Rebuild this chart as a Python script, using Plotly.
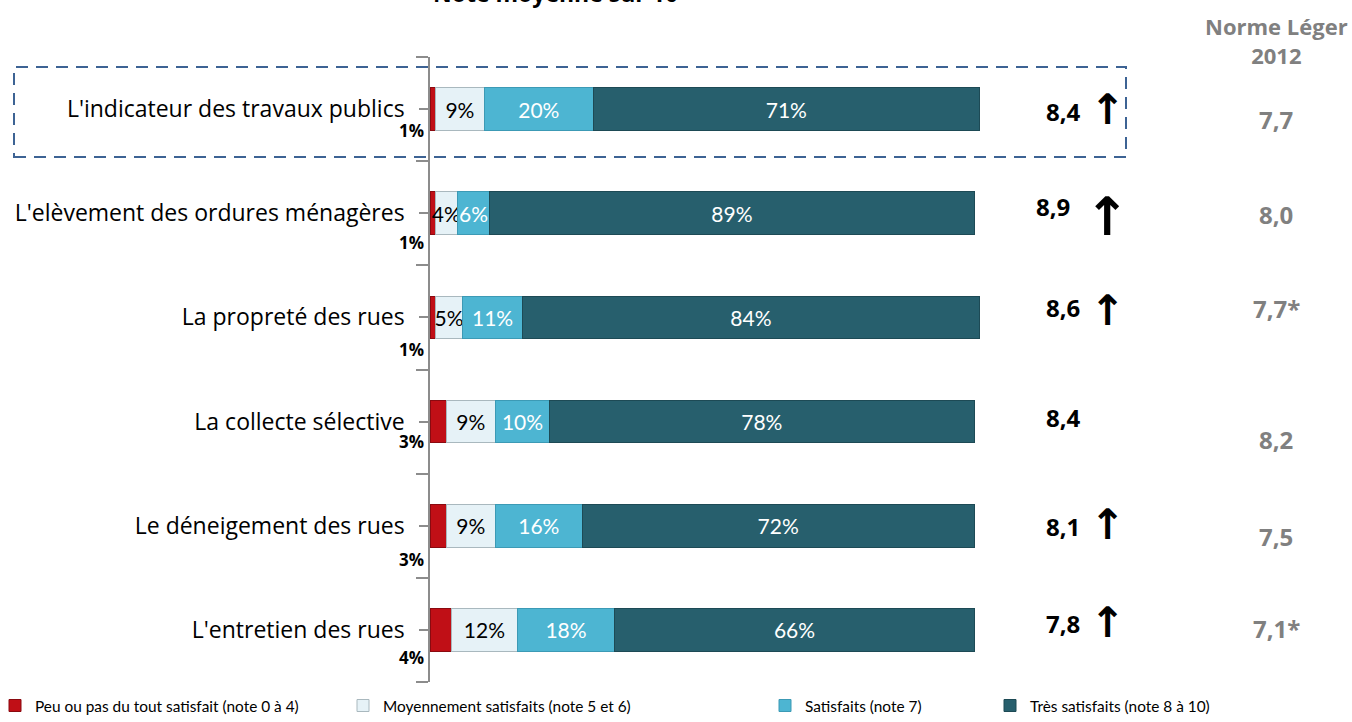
import plotly.graph_objects as go

categories = [
    "L'indicateur des travaux publics",
    "L'elèvement des ordures ménagères",
    "La propreté des rues",
    "La collecte sélective",
    "Le déneigement des rues",
    "L'entretien des rues",
]
peu = [1, 1, 1, 3, 3, 4]
moyen = [9, 4, 5, 9, 9, 12]
satisf = [20, 6, 11, 10, 16, 18]
tres = [71, 89, 84, 78, 72, 66]
moyenne = ["8,4", "8,9", "8,6", "8,4", "8,1", "7,8"]
hausse = [True, True, True, False, True, True]
norme = ["7,7", "8,0", "7,7*", "8,2", "7,5", "7,1*"]

series_names = [
    "Peu ou pas du tout satisfait (note 0 à 4)",
    "Moyennement satisfaits (note 5 et 6)",
    "Satisfaits (note 7)",
    "Très satisfaits (note 8 à 10)",
]

# ---- styles / layout helpers ----
FONT = "Open Sans, sans-serif"
SEGFONT = "Lato, Open Sans, sans-serif"
colors = ["#C00F16", "#E6F2F7", "#4DB5D2", "#275F6D"]
line_colors = ["#8A0A10", "#A9B8BE", "#3C9AB5", "#1D4A55"]
text_colors = ["white", "black", "white", "white"]
red_label_shift = [-21, -29, -32, -20, -34, -28]
mean_shift = [-2, 7, 10, 4, -1, 6]
mean_x = [1063, 1053, 1063, 1063, 1063, 1063]
arrow_shift = [0, -3, 7, 0, 1, 7]
arrow_size = [42, 53, 42, 42, 42, 42]
norm_shift = [-10, -1, 9, -18, -11, 1]
legend_px = [-5, 343, 765, 990]

W, H = 1352, 722
L, R, T, B = 430, 0, 57, 40
px_per_pct = 5.44
xmax = (W - L - R) / px_per_pct

ypos = list(range(len(categories)))


def px_to_paper_x(px):
    return (px - L) / (W - L - R)


def px_to_paper_y(py):
    return 1 - (py - T) / (H - T - B)


legend_ids = ["legend", "legend2", "legend3", "legend4"]

fig = go.Figure()
for i, (name, vals) in enumerate(zip(series_names, [peu, moyen, satisf, tres])):
    fig.add_trace(go.Bar(
        y=ypos, x=vals, orientation="h", name=name,
        width=0.41,
        marker=dict(color=colors[i], line=dict(color=line_colors[i], width=1)),
        text=[("" if i == 0 else f"{v}%") for v in vals],
        textposition="inside", insidetextanchor="middle", textangle=0,
        textfont=dict(family=SEGFONT, size=21, color=text_colors[i]),
        legend=legend_ids[i],
        hoverinfo="skip",
    ))

annotations = []
# labels of the small red segment, below-left of each bar
for k, v in enumerate(peu):
    annotations.append(dict(
        x=0, y=ypos[k], xref="x", yref="y", text=f"<b>{v}%</b>",
        showarrow=False, xanchor="right", yanchor="middle",
        xshift=-4, yshift=red_label_shift[k],
        font=dict(family=FONT, size=17, color="black")))

# mean scores, arrows, norms
for k in range(len(categories)):
    annotations.append(dict(
        x=px_to_paper_x(mean_x[k]), y=ypos[k], xref="paper", yref="y",
        text=f"<b>{moyenne[k]}</b>", showarrow=False,
        xanchor="center", yanchor="middle", yshift=mean_shift[k],
        font=dict(family=FONT, size=24, color="black")))
    if hausse[k]:
        annotations.append(dict(
            x=px_to_paper_x(1107), y=ypos[k], xref="paper", yref="y",
            text="<b>↑</b>", showarrow=False,
            xanchor="center", yanchor="middle", yshift=arrow_shift[k],
            font=dict(family="DejaVu Sans", size=arrow_size[k], color="black")))
    annotations.append(dict(
        x=px_to_paper_x(1276), y=ypos[k], xref="paper", yref="y",
        text=f"<b>{norme[k]}</b>", showarrow=False,
        xanchor="center", yanchor="middle", yshift=norm_shift[k],
        font=dict(family=FONT, size=24, color="#808080")))

annotations.append(dict(
    x=px_to_paper_x(1276), y=px_to_paper_y(40), xref="paper", yref="paper",
    text="<b>Norme Léger<br>2012</b>", showarrow=False,
    xanchor="center", yanchor="middle",
    font=dict(family=FONT, size=22, color="#808080")))

annotations.append(dict(
    x=px_to_paper_x(555), y=px_to_paper_y(11), xref="paper", yref="paper",
    text="<b>Note moyenne sur 10</b>", showarrow=False,
    xanchor="center", yanchor="bottom",
    font=dict(family=FONT, size=23, color="black")))

shapes = [dict(
    type="rect", xref="paper", yref="paper",
    x0=px_to_paper_x(14), x1=px_to_paper_x(1126),
    y0=px_to_paper_y(157), y1=px_to_paper_y(67),
    line=dict(color="#3D6394", width=2, dash="12px,8px"),
    fillcolor="rgba(0,0,0,0)", layer="above")]

legend_font = dict(family="Lato, sans-serif", size=15.4, color="black")
legends = {}
for i, lid in enumerate(legend_ids):
    legends[lid] = dict(
        orientation="h", x=px_to_paper_x(legend_px[i]), xanchor="left",
        y=px_to_paper_y(689), yanchor="top", font=legend_font,
        bgcolor="rgba(0,0,0,0)", itemwidth=30)

fig.update_layout(
    width=W, height=H,
    margin=dict(l=L, r=R, t=T, b=B, autoexpand=False),
    barmode="stack",
    plot_bgcolor="white", paper_bgcolor="white",
    font=dict(family=FONT, size=16, color="black"),
    xaxis=dict(range=[0, xmax], visible=False, showgrid=False, zeroline=False),
    yaxis=dict(
        range=[len(categories) - 0.5, -0.5],
        tickmode="array", tickvals=ypos, ticktext=categories,
        ticks="outside", ticklen=9, tickcolor="#8C8C8C", tickwidth=1.5,
        ticklabelstandoff=10,
        showline=True, linecolor="#8C8C8C", linewidth=1.5,
        showgrid=False, zeroline=False,
        tickfont=dict(family=FONT, size=23, color="black"),
        minor=dict(tickmode="array",
                   tickvals=[p - 0.5 for p in ypos] + [ypos[-1] + 0.5],
                   ticks="outside", ticklen=12, tickcolor="#8C8C8C", tickwidth=1.5,
                   showgrid=False),
    ),
    uniformtext=dict(minsize=21, mode="show"),
    annotations=annotations,
    shapes=shapes,
    showlegend=True,
    **legends,
)

fig.write_html("out.html", config={"displayModeBar": False},
               post_script="document.body.style.margin='0px';")
